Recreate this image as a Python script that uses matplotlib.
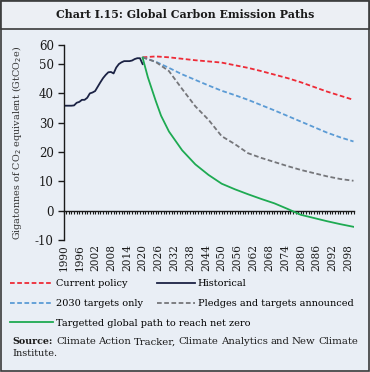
import numpy as np
import matplotlib
matplotlib.use("Agg")
from matplotlib import pyplot as plt
from matplotlib.patches import Rectangle

# historical emissions (GtCO2e)
hist_years = list(range(1990, 2021))
hist_vals = [35.8, 35.8, 35.8, 35.8, 35.9, 36.8, 37.1, 37.8, 37.8, 38.5,
             40.0, 40.3, 40.8, 42.3, 43.8, 45.2, 46.3, 47.2, 47.3, 46.8,
             48.8, 50.0, 50.6, 51.0, 51.0, 51.0, 51.2, 51.7, 52.0, 52.0, 50.0]

# projections, every 5 years
proj_years = list(range(2020, 2101, 5))
current_policy = [52.3, 52.6, 52.3, 51.8, 51.3, 50.9, 50.5, 49.6, 48.7,
                  47.6, 46.4, 45.2, 43.8, 42.2, 40.6, 39.2, 37.8]
targets_2030 = [52.3, 50.8, 48.7, 46.5, 44.6, 42.7, 40.9, 39.4, 37.8,
                36.0, 34.2, 32.3, 30.4, 28.5, 26.6, 25.0, 23.6]
pledges = [52.3, 50.7, 47.6, 41.5, 35.6, 31.0, 25.4, 22.7, 19.6,
           18.0, 16.6, 15.2, 13.9, 12.8, 11.7, 10.8, 10.2]

net_zero_years = [2020, 2022, 2025, 2027, 2030, 2035, 2040, 2045, 2050, 2055,
                  2060, 2065, 2070, 2075, 2080, 2085, 2090, 2095, 2100]
net_zero = [52.2, 45.5, 37.4, 32.4, 27.0, 20.6, 15.8, 12.2, 9.2, 7.3,
            5.6, 4.0, 2.5, 0.6, -1.4, -2.5, -3.6, -4.6, -5.5]

tick_years = list(range(1990, 2099, 6))
y_ticks = [-10, 0, 10, 20, 30, 40, 50]

bg = "#E9EEF5"
edge = "#3a3a3a"
ink = "#1a1a1a"
plt.rcParams["font.family"] = "DejaVu Serif"

W, H = 370, 372
fig = plt.figure(figsize=(W / 100, H / 100), dpi=100, facecolor=bg)

# frame + title box
fig.patches.append(Rectangle((0.003, 0.003), 0.994, 0.994, transform=fig.transFigure,
                             fill=False, edgecolor=edge, lw=1.2))
fig.patches.append(Rectangle((0.003, 1 - 29 / H), 0.994, 29 / H - 0.003, transform=fig.transFigure,
                             facecolor="#ECEFF4", edgecolor=edge, lw=1.2))
fig.text(0.5, 1 - 14.5 / H, "Chart I.15: Global Carbon Emission Paths",
         ha="center", va="center", fontsize=7.9, fontweight="bold", color=ink)

ax = fig.add_axes([63.5 / W, 1 - 240 / H, (353.5 - 63.5) / W, (240 - 45) / H])
ax.set_facecolor(bg)

ymin, ymax = -10, 56.5
dash = (0, (2.6, 1.4))
ax.plot(proj_years, current_policy, color="#EE2A36", lw=1.3, ls=dash, label="Current policy")
ax.plot(proj_years, targets_2030, color="#5B9BD5", lw=1.3, ls=dash, label="2030 targets only")
ax.plot(proj_years, pledges, color="#75767A", lw=1.3, ls=dash, label="Pledges and targets announced")
ax.plot(hist_years, hist_vals, color="#1B2244", lw=1.3, label="Historical")
ax.plot(net_zero_years, net_zero, color="#1EAA52", lw=1.3,
        label="Targetted global path to reach net zero")

ax.set_xlim(1990, 2100)
ax.set_ylim(ymin, ymax)
for s in ["top", "right", "bottom"]:
    ax.spines[s].set_visible(False)
ax.spines["left"].set_color(ink)
ax.spines["left"].set_linewidth(1.0)

ax.set_yticks(y_ticks + [ymax])
ax.set_yticklabels([str(v) for v in y_ticks] + ["60"])
ax.tick_params(axis="y", direction="out", length=4, width=1.0, labelsize=8.5,
               colors=ink, pad=3)

ax.set_xticks(tick_years)
ax.set_xticklabels([str(y) for y in tick_years], rotation=90)
ax.tick_params(axis="x", length=0, labelsize=7.6, pad=3, colors=ink)

# zero line with yearly ticks
zero_ax = ax.secondary_xaxis((0 - ymin) / (ymax - ymin))
zero_ax.set_xticks(list(range(1990, 2101)))
zero_ax.set_xticklabels([])
zero_ax.tick_params(axis="x", direction="out", length=2.5, width=0.8, color=ink)
zero_ax.spines["bottom"].set_color(ink)
zero_ax.spines["bottom"].set_linewidth(1.0)

ax.set_ylabel("Gigatonnes of CO$_2$ equivalent (GtCO$_2$e)", fontsize=6.9,
              color="#333333", labelpad=8)

handles, labels = ax.get_legend_handles_labels()
lookup = dict(zip(labels, handles))
leg_kw = dict(loc="upper left", frameon=False, fontsize=7, handlelength=4.4,
              handletextpad=0.3, labelspacing=1.1, borderpad=0, borderaxespad=0)
col1 = ["Current policy", "2030 targets only", "Targetted global path to reach net zero"]
col2 = ["Historical", "Pledges and targets announced"]
fig.legend([lookup[k] for k in col1], col1, bbox_to_anchor=(10 / W, 1 - 279.5 / H), **leg_kw)
fig.legend([lookup[k] for k in col2], col2, bbox_to_anchor=(157 / W, 1 - 279.5 / H),
           **dict(leg_kw, handlelength=3.9))

# source note, first line justified
src_size = 7.0
src_y = 1 - 342 / H
words = ["Climate", "Action", "Tracker,", "Climate", "Analytics", "and", "New", "Climate"]
fig.text(12 / W, src_y, "Source:", fontsize=src_size - 0.2, fontweight="bold",
         va="center", ha="left", color=ink)
texts = [fig.text(0, src_y, w, fontsize=src_size + 0.3, va="center", ha="left", color=ink)
         for w in words]
renderer = fig.canvas.get_renderer()
widths = [t.get_window_extent(renderer).width for t in texts]
x0, x1 = 56.0, 358.0
gap = (x1 - x0 - sum(widths)) / (len(words) - 1)
x = x0
for t, w in zip(texts, widths):
    t.set_x(x / W)
    x += w + gap
fig.text(12 / W, 1 - 353.5 / H, "Institute.", fontsize=src_size, va="center", ha="left",
         color=ink)

fig.savefig("out.png", dpi=100, facecolor=bg)
